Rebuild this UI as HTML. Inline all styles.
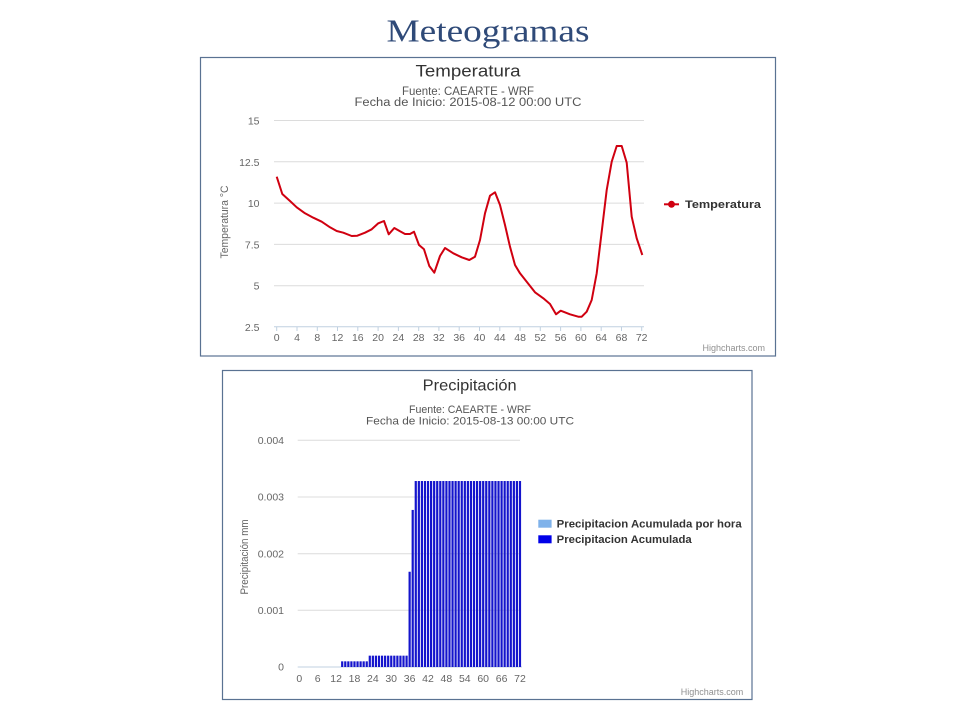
<!DOCTYPE html>
<html><head><meta charset="utf-8"><style>
html,body{margin:0;padding:0;background:#fff;width:960px;height:720px;overflow:hidden}
svg{display:block}
text{font-family:"Liberation Sans",sans-serif}
</style></head><body>
<svg width="960" height="720" viewBox="0 0 960 720" xmlns="http://www.w3.org/2000/svg">
<rect width="960" height="720" fill="#fff"/>
<text x="488" y="41.7" text-anchor="middle" font-family="Liberation Serif,serif" font-size="32" fill="#2f4a78" textLength="203" lengthAdjust="spacingAndGlyphs" style="font-family:'Liberation Serif',serif">Meteogramas</text>

<!-- Temperature chart -->
<rect x="200.5" y="57.5" width="575" height="298.5" fill="#fff" stroke="#5a7292" stroke-width="1.2"/>
<text x="468" y="76.5" text-anchor="middle" font-size="17" fill="#333" textLength="105" lengthAdjust="spacingAndGlyphs">Temperatura</text>
<text x="468" y="95" text-anchor="middle" font-size="11.5" fill="#555" textLength="132" lengthAdjust="spacingAndGlyphs">Fuente: CAEARTE - WRF</text>
<text x="468" y="106" text-anchor="middle" font-size="11.5" fill="#555" textLength="227" lengthAdjust="spacingAndGlyphs">Fecha de Inicio: 2015-08-12 00:00 UTC</text>
<g stroke="#dcdcdc" stroke-width="1">
<line x1="274" x2="644" y1="120.5" y2="120.5"/>
<line x1="274" x2="644" y1="161.8" y2="161.8"/>
<line x1="274" x2="644" y1="203.1" y2="203.1"/>
<line x1="274" x2="644" y1="244.4" y2="244.4"/>
<line x1="274" x2="644" y1="285.7" y2="285.7"/>
</g>
<line x1="274" x2="644" y1="326.8" y2="326.8" stroke="#c0d0e0" stroke-width="1"/>
<g stroke="#c0d0e0" stroke-width="1">
<line x1="276.7" x2="276.7" y1="327" y2="331"/><line x1="297.0" x2="297.0" y1="327" y2="331"/><line x1="317.3" x2="317.3" y1="327" y2="331"/><line x1="337.5" x2="337.5" y1="327" y2="331"/><line x1="357.8" x2="357.8" y1="327" y2="331"/><line x1="378.1" x2="378.1" y1="327" y2="331"/><line x1="398.4" x2="398.4" y1="327" y2="331"/><line x1="418.7" x2="418.7" y1="327" y2="331"/><line x1="438.9" x2="438.9" y1="327" y2="331"/><line x1="459.2" x2="459.2" y1="327" y2="331"/><line x1="479.5" x2="479.5" y1="327" y2="331"/><line x1="499.8" x2="499.8" y1="327" y2="331"/><line x1="520.1" x2="520.1" y1="327" y2="331"/><line x1="540.3" x2="540.3" y1="327" y2="331"/><line x1="560.6" x2="560.6" y1="327" y2="331"/><line x1="580.9" x2="580.9" y1="327" y2="331"/><line x1="601.2" x2="601.2" y1="327" y2="331"/><line x1="621.5" x2="621.5" y1="327" y2="331"/><line x1="641.7" x2="641.7" y1="327" y2="331"/>
</g>
<g font-size="10.5" fill="#666" text-anchor="end">
<text x="259.5" y="124.5">15</text>
<text x="259.5" y="165.8">12.5</text>
<text x="259.5" y="207.1">10</text>
<text x="259.5" y="248.4">7.5</text>
<text x="259.5" y="289.7">5</text>
<text x="259.5" y="330.8">2.5</text>
</g>
<g font-size="10.5" fill="#666" text-anchor="middle">
<text x="276.7" y="341">0</text><text x="297.0" y="341">4</text><text x="317.3" y="341">8</text><text x="337.5" y="341">12</text><text x="357.8" y="341">16</text><text x="378.1" y="341">20</text><text x="398.4" y="341">24</text><text x="418.7" y="341">28</text><text x="438.9" y="341">32</text><text x="459.2" y="341">36</text><text x="479.5" y="341">40</text><text x="499.8" y="341">44</text><text x="520.1" y="341">48</text><text x="540.3" y="341">52</text><text x="560.6" y="341">56</text><text x="580.9" y="341">60</text><text x="601.2" y="341">64</text><text x="621.5" y="341">68</text><text x="641.7" y="341">72</text>
</g>
<text transform="translate(228,222) rotate(-90)" text-anchor="middle" font-size="11" fill="#666" textLength="73" lengthAdjust="spacingAndGlyphs">Temperatura °C</text>
<polyline fill="none" stroke="#d00010" stroke-width="2" stroke-linejoin="round" points="276.7,176.7 282.3,194 290,201 296.7,207.3 305,213.3 313.3,217.7 321.7,221.7 330,227.3 336.7,231 343.3,232.7 351.7,236 357.3,235.7 365,232.7 371.7,229.3 378.3,223.3 384,221 388.7,234.3 394.3,228 400,231.3 405,234 410,234 414,231.7 419,245 424,249.3 429.3,266 434.3,272.7 440,256 445,248 453.3,253.3 461.7,257.3 469.3,260 475,256.7 480,240 485,213.3 490,195.7 495,192.3 500,205 505,225 510,246.7 515,265 520,273.3 526.7,281.7 535,292.3 543.3,298.3 550,304 556,314.3 560.7,310.7 570,314.3 578.3,316.7 581.7,316.7 586.7,311.7 591.7,300 596.7,273.3 601.7,231.7 606.7,190 611.7,161.7 616.7,146 621.7,146 626.7,162.7 631.7,216.7 636.7,238.3 642.3,255"/>
<line x1="664" x2="679" y1="204.3" y2="204.3" stroke="#d00010" stroke-width="2"/>
<circle cx="671.5" cy="204.3" r="3.5" fill="#d00010"/>
<text x="685" y="208" font-size="11" font-weight="bold" fill="#333" textLength="76" lengthAdjust="spacingAndGlyphs">Temperatura</text>
<text x="765" y="351" text-anchor="end" font-size="9" fill="#909090">Highcharts.com</text>

<!-- Precipitation chart -->
<rect x="222.5" y="370.5" width="529.5" height="329" fill="#fff" stroke="#5a7292" stroke-width="1.2"/>
<text x="469.7" y="390.5" text-anchor="middle" font-size="16" fill="#333" textLength="94" lengthAdjust="spacingAndGlyphs">Precipitación</text>
<text x="470" y="413" text-anchor="middle" font-size="11" fill="#555" textLength="122" lengthAdjust="spacingAndGlyphs">Fuente: CAEARTE - WRF</text>
<text x="470" y="424.5" text-anchor="middle" font-size="11" fill="#555" textLength="208" lengthAdjust="spacingAndGlyphs">Fecha de Inicio: 2015-08-13 00:00 UTC</text>
<g stroke="#dcdcdc" stroke-width="1">
<line x1="297.7" x2="520" y1="440.3" y2="440.3"/>
<line x1="297.7" x2="520" y1="497" y2="497"/>
<line x1="297.7" x2="520" y1="553.7" y2="553.7"/>
<line x1="297.7" x2="520" y1="610.3" y2="610.3"/>
</g>
<line x1="297.7" x2="522" y1="667" y2="667" stroke="#c0d0e0" stroke-width="1"/>
<g font-size="10.5" fill="#666" text-anchor="end">
<text x="284" y="444">0.004</text>
<text x="284" y="500.7">0.003</text>
<text x="284" y="557.4">0.002</text>
<text x="284" y="614">0.001</text>
<text x="284" y="670.7">0</text>
</g>
<g font-size="10.5" fill="#666" text-anchor="middle">
<text x="299.3" y="682">0</text><text x="317.7" y="682">6</text><text x="336.1" y="682">12</text><text x="354.5" y="682">18</text><text x="372.9" y="682">24</text><text x="391.2" y="682">30</text><text x="409.6" y="682">36</text><text x="428.0" y="682">42</text><text x="446.4" y="682">48</text><text x="464.8" y="682">54</text><text x="483.2" y="682">60</text><text x="501.6" y="682">66</text><text x="520.0" y="682">72</text>
</g>
<text transform="translate(248,557) rotate(-90)" text-anchor="middle" font-size="11" fill="#666" textLength="75" lengthAdjust="spacingAndGlyphs">Precipitación mm</text>
<g fill="#1414cc" id="bars"></g>
<rect x="538.3" y="519.7" width="13.3" height="8" fill="#7fb2ea"/>
<rect x="538.3" y="535.3" width="13.3" height="8" fill="#0000e8"/>
<text x="556.7" y="527.5" font-size="11" font-weight="bold" fill="#333" textLength="185" lengthAdjust="spacingAndGlyphs">Precipitacion Acumulada por hora</text>
<text x="556.7" y="543" font-size="11" font-weight="bold" fill="#333" textLength="135" lengthAdjust="spacingAndGlyphs">Precipitacion Acumulada</text>
<text x="743.3" y="695" text-anchor="end" font-size="9" fill="#909090">Highcharts.com</text>
</svg>
<script>
(function(){
var g=document.getElementById('bars');var ns='http://www.w3.org/2000/svg';
for(var h=14;h<=72;h++){
 var v;
 if(h<=22)v=0.0001;else if(h<=35)v=0.0002;else if(h==36)v=0.00168;else if(h==37)v=0.00277;else v=0.00328;
 var hp=v*56700;var cx=299.3+h*3.065;
 var r=document.createElementNS(ns,'rect');
 r.setAttribute('x',(cx-1.1).toFixed(2));r.setAttribute('y',(667-hp).toFixed(2));
 r.setAttribute('width','2.2');r.setAttribute('height',hp.toFixed(2));
 g.appendChild(r);
}
})();
</script>
</body></html>
